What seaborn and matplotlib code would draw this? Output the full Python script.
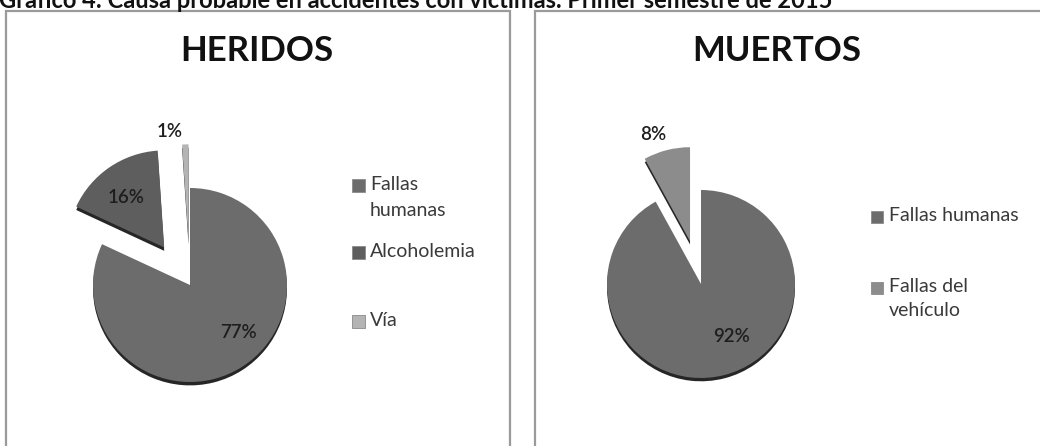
import matplotlib
matplotlib.use("Agg")
import matplotlib.pyplot as plt
import seaborn as sns
from matplotlib.patches import Rectangle

sns.set_theme(style="white")
plt.rcParams["font.family"] = ["Lato", "DejaVu Sans"]

W, H = 1040, 446

titulo = "Gráfico 4: Causa probable en accidentes con víctimas. Primer semestre de 2015"

heridos_cat = ["Fallas\nhumanas", "Alcoholemia", "Vía"]
heridos_pct = [77, 16, 1]
muertos_cat = ["Fallas humanas", "Fallas del\nvehículo"]
muertos_pct = [92, 8]

heridos_col = sns.color_palette(["#6c6c6c", "#5e5e5e", "#b4b4b4"])
muertos_col = sns.color_palette(["#6c6c6c", "#8c8c8c"])

fig = plt.figure(figsize=(W / 100, H / 100), dpi=100)
fig.patch.set_facecolor("white")


def px(x, y):
    return x / W, 1 - y / H


# panel frames
for x0, x1 in [(6, 510), (535, 1050)]:
    fig.patches.append(Rectangle(px(x0, 452), (x1 - x0) / W, (452 - 11) / H,
                                 transform=fig.transFigure, fill=False,
                                 edgecolor="#9a9a9a", linewidth=1.6))

fig.text(*px(-1, 8), titulo, fontsize=17, fontweight="bold",
         ha="left", va="baseline", color="#111111")


def draw_pie(cx, cy, r, vals, cols, explode, label_pos, label_txt):
    half = 1.7
    size = 2 * half * r
    ax = fig.add_axes([(cx - size / 2) / W, 1 - (cy + size / 2) / H, size / W, size / H])
    ax.set_xlim(-half, half)
    ax.set_ylim(-half, half)
    ax.set_aspect("equal")
    ax.axis("off")
    # pie thickness
    dark = ["#262626"] * len(vals)
    ax.pie(vals, colors=dark, startangle=90, counterclock=False,
           explode=explode, center=(0, -0.035), radius=1,
           wedgeprops=dict(linewidth=0))
    ax.pie(vals, colors=cols, startangle=90, counterclock=False,
           explode=explode, radius=1,
           wedgeprops=dict(linewidth=0))
    ax.set_xlim(-half, half)
    ax.set_ylim(-half, half)
    for (lx, ly), t in zip(label_pos, label_txt):
        fig.text(*px(lx, ly), t, fontsize=13.5, ha="center", va="center",
                 color="#1e1e1e", fontweight="semibold")
    return ax


draw_pie(190, 285, 97, heridos_pct, heridos_col, [0, 0.47, 0.45],
         [(238, 333), (126, 197), (170, 131)],
         [f"{v}%" for v in heridos_pct])

draw_pie(701, 284, 94, muertos_pct, muertos_col, [0, 0.47],
         [(731, 336), (653, 134)],
         [f"{v}%" for v in muertos_pct])

fig.text(*px(257, 51), "HERIDOS", fontsize=25, fontweight="bold",
         ha="center", va="center", color="#111111")
fig.text(*px(777, 51), "MUERTOS", fontsize=25, fontweight="bold",
         ha="center", va="center", color="#111111")

# legends
leg_txt = "#3a3a3a"
for (y, lab), c in zip([(186, heridos_cat[0]), (253, heridos_cat[1]), (322, heridos_cat[2])],
                       heridos_col):
    fig.patches.append(Rectangle(px(352, y + 6), 13 / W, 13 / H,
                                 transform=fig.transFigure, facecolor=c,
                                 edgecolor="#8a8a8a", linewidth=0.6))
    fig.text(*px(370, y - 10), lab, fontsize=14, ha="left", va="top",
             color=leg_txt, linespacing=1.65)

for (y, lab), c in zip([(217, muertos_cat[0]), (288, muertos_cat[1])], muertos_col):
    fig.patches.append(Rectangle(px(871, y + 6), 12 / W, 12 / H,
                                 transform=fig.transFigure, facecolor=c,
                                 edgecolor="#8a8a8a", linewidth=0.6))
    fig.text(*px(889, y - 10), lab, fontsize=14, ha="left", va="top",
             color=leg_txt, linespacing=1.5)

fig.savefig("out.png", dpi=100, facecolor="white")
